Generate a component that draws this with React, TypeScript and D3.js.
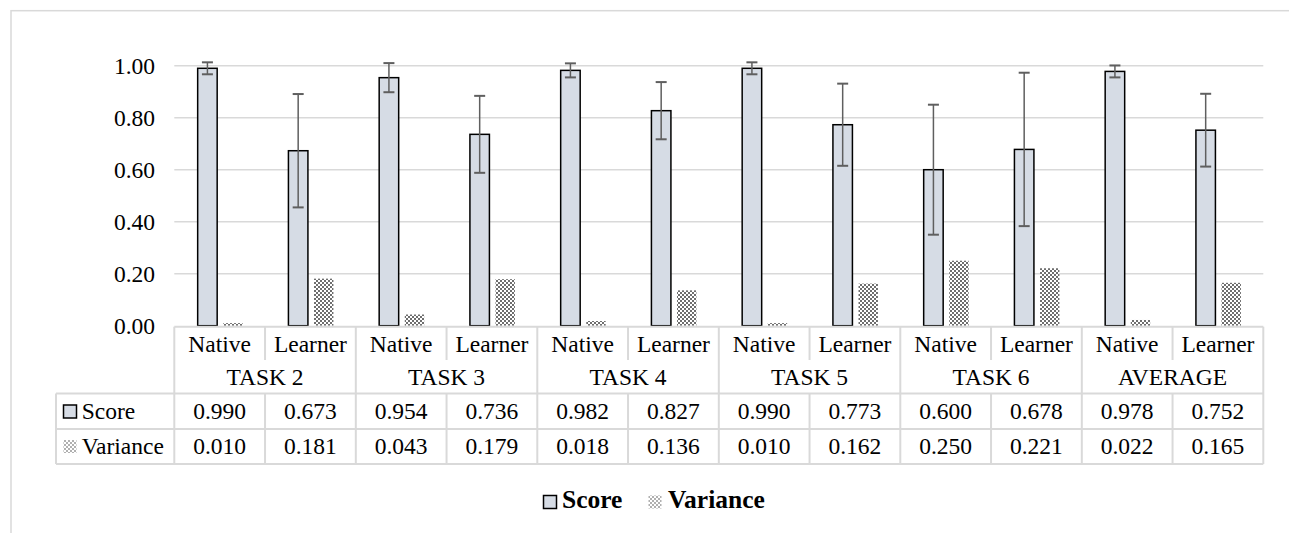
import React from "react";
import * as d3 from "d3";

const groups = ["TASK 2", "TASK 3", "TASK 4", "TASK 5", "TASK 6", "AVERAGE"];
const subgroups = ["Native", "Learner"];
const scoreValues = [0.99, 0.673, 0.954, 0.736, 0.982, 0.827, 0.99, 0.773, 0.6, 0.678, 0.978, 0.752];
const varianceValues = [0.01, 0.181, 0.043, 0.179, 0.018, 0.136, 0.01, 0.162, 0.25, 0.221, 0.022, 0.165];
const errorValues = [0.023, 0.218, 0.056, 0.148, 0.027, 0.11, 0.023, 0.158, 0.25, 0.295, 0.023, 0.14];
const yTicks = [0, 0.2, 0.4, 0.6, 0.8, 1.0];
const seriesNames = ["Score", "Variance"];

const W = 1289;
const H = 533;
const FONT = '"Liberation Serif"';
const GRID = "#d9d9d9";
const SCORE_FILL = "#d6dce5";
const ERR = "#5f5f5f";

export default function App() {
  const cats = scoreValues.map((_, i) => i);
  const x = d3.scaleBand<number>().domain(cats).range([174.3, 1263.3]).padding(0);
  const y = d3.scaleLinear().domain([0, 1]).range([325.7, 65.7]);
  const bw = x.bandwidth();
  const left = 174.3;
  const right = 1263.3;
  const tTop = 326.7;
  const hMid = 360;
  const hBot = 393.5;
  const rMid = 429;
  const tBot = 464;
  const legLeft = 56;
  const fs = 23.5;
  const ts: React.CSSProperties = { fontFamily: FONT, fontSize: fs };
  const tl: React.CSSProperties = { fontFamily: FONT, fontSize: 25.5, fontWeight: "bold" };

  return (
    <svg width={W} height={H} style={{ position: "absolute", left: 0, top: 0 }}>
      <defs>
        <pattern id="chk" width="4" height="4" patternUnits="userSpaceOnUse">
          <rect width="4" height="4" fill="#ffffff" />
          <rect x="0" y="0" width="2" height="2" fill="#6e6e6e" />
          <rect x="2" y="2" width="2" height="2" fill="#6e6e6e" />
        </pattern>
        <pattern id="chkLight" width="4" height="4" patternUnits="userSpaceOnUse">
          <rect width="4" height="4" fill="#ffffff" />
          <rect x="0" y="0" width="2" height="2" fill="#b0b0b0" />
          <rect x="2" y="2" width="2" height="2" fill="#b0b0b0" />
        </pattern>
      </defs>
      <rect x={0} y={0} width={W} height={H} fill="#ffffff" />
      <rect x={11} y={10.7} width={1400} height={700} fill="none" stroke={GRID} strokeWidth={1.5} />

      {yTicks.filter((t) => t > 0).map((t) => (
        <line key={t} x1={left} x2={right} y1={y(t)} y2={y(t)} stroke={GRID} strokeWidth={1.5} />
      ))}
      {yTicks.map((t) => (
        <text key={t} x={155} y={y(t) + 8} textAnchor="end" style={ts} fill="#000">
          {d3.format(".2f")(t)}
        </text>
      ))}

      {cats.map((i) => {
        const c = (x(i) as number) + bw / 2;
        const sx = c - 22;
        const sw = 19.5;
        const sc = sx + sw / 2;
        const v = scoreValues[i];
        const e = errorValues[i];
        return (
          <g key={i}>
            <rect x={sx} y={y(v)} width={sw} height={y(0) - y(v)} fill={SCORE_FILL} stroke="#000" strokeWidth={1.5} />
            <rect x={c + 3.6} y={y(varianceValues[i])} width={19.4} height={y(0) - y(varianceValues[i])} fill="url(#chk)" />
            <line x1={sc} x2={sc} y1={y(v + e)} y2={y(v - e)} stroke={ERR} strokeWidth={1.5} />
            <line x1={sc - 5.5} x2={sc + 5.5} y1={y(v + e)} y2={y(v + e)} stroke={ERR} strokeWidth={2} />
            <line x1={sc - 5.5} x2={sc + 5.5} y1={y(v - e)} y2={y(v - e)} stroke={ERR} strokeWidth={2} />
          </g>
        );
      })}

      <g stroke={GRID} strokeWidth={2} fill="none">
        <line x1={left} x2={right} y1={tTop} y2={tTop} />
        <line x1={legLeft} x2={right} y1={hBot} y2={hBot} />
        <line x1={legLeft} x2={right} y1={rMid} y2={rMid} />
        <line x1={legLeft} x2={right} y1={tBot} y2={tBot} />
        <line x1={legLeft} x2={legLeft} y1={hBot} y2={tBot} />
        {cats.concat([cats.length]).map((i) => {
          const xx = i < cats.length ? (x(i) as number) : right;
          const isGroupEdge = i % 2 === 0;
          return isGroupEdge ? (
            <line key={i} x1={xx} x2={xx} y1={tTop} y2={tBot} />
          ) : (
            <g key={i}>
              <line x1={xx} x2={xx} y1={tTop} y2={hMid} />
              <line x1={xx} x2={xx} y1={hBot} y2={tBot} />
            </g>
          );
        })}
      </g>

      {cats.map((i) => {
        const c = (x(i) as number) + bw / 2;
        return (
          <g key={i} textAnchor="middle" fill="#000">
            <text x={c} y={351.7} style={ts}>{subgroups[i % 2]}</text>
            <text x={c} y={419.3} style={ts}>{d3.format(".3f")(scoreValues[i])}</text>
            <text x={c} y={454} style={ts}>{d3.format(".3f")(varianceValues[i])}</text>
          </g>
        );
      })}
      {groups.map((g, gi) => {
        const c = (x(gi * 2) as number) + bw;
        return (
          <text key={g} x={c} y={385} textAnchor="middle" style={ts} fill="#000">
            {g}
          </text>
        );
      })}
      <rect x={63.5} y={405} width={13} height={13} fill={SCORE_FILL} stroke="#000" strokeWidth={1.5} />
      <text x={81.7} y={419.3} style={ts} fill="#000">{seriesNames[0]}</text>
      <rect x={63.5} y={440} width={13} height={13} fill="url(#chkLight)" />
      <text x={81.7} y={454} style={ts} fill="#000">{seriesNames[1]}</text>

      <rect x={543.5} y={495.5} width={13} height={13} fill={SCORE_FILL} stroke="#000" strokeWidth={1.5} />
      <text x={562} y={508.3} style={tl} fill="#000">{seriesNames[0]}</text>
      <rect x={648.5} y={495.5} width={13} height={13} fill="url(#chkLight)" />
      <text x={668} y={508.3} style={tl} fill="#000">{seriesNames[1]}</text>
    </svg>
  );
}
